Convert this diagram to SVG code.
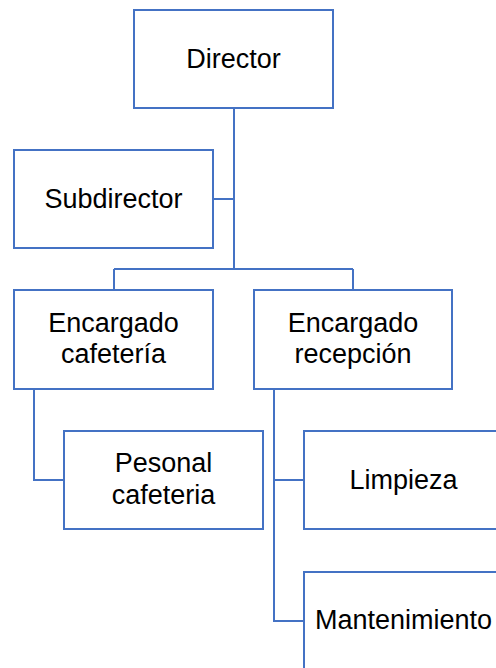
<svg xmlns="http://www.w3.org/2000/svg" width="496" height="668" viewBox="0 0 496 668">
<style>
.box{fill:#fff;stroke:#4472C4;stroke-width:2}
.ln{fill:none;stroke:#4472C4;stroke-width:2}
text{font-family:"Liberation Sans",Arial,sans-serif;font-size:27px;fill:#000;text-anchor:middle}
</style>
<rect width="496" height="668" fill="#fff"/>
<g id="connectors">
<path class="ln" d="M234 108V269M213 199H234M114 269H353M114 269V290M353 269V290"/>
<path class="ln" d="M34 389V480H64"/>
<path class="ln" d="M274 389V621H304M274 480H304"/>
</g>
<g id="director"><rect class="box" x="134" y="10" width="199" height="98"/><text x="233.5" y="68">Director</text></g>
<g id="subdirector"><rect class="box" x="14" y="150" width="199" height="98"/><text x="113.5" y="208">Subdirector</text></g>
<g id="encargado-cafeteria"><rect class="box" x="14" y="290" width="199" height="99"/><text x="113.5" y="332">Encargado</text><text x="113.5" y="363">cafetería</text></g>
<g id="encargado-recepcion"><rect class="box" x="254" y="290" width="198" height="99"/><text x="353" y="332">Encargado</text><text x="353" y="363">recepción</text></g>
<g id="pesonal-cafeteria"><rect class="box" x="64" y="431" width="199" height="98"/><text x="163.5" y="472">Pesonal</text><text x="163.5" y="504">cafeteria</text></g>
<g id="limpieza"><rect class="box" x="304" y="431" width="199" height="98"/><text x="403.5" y="489">Limpieza</text></g>
<g id="mantenimiento"><rect class="box" x="304" y="572" width="199" height="98"/><text x="403.5" y="629">Mantenimiento</text></g>
</svg>
